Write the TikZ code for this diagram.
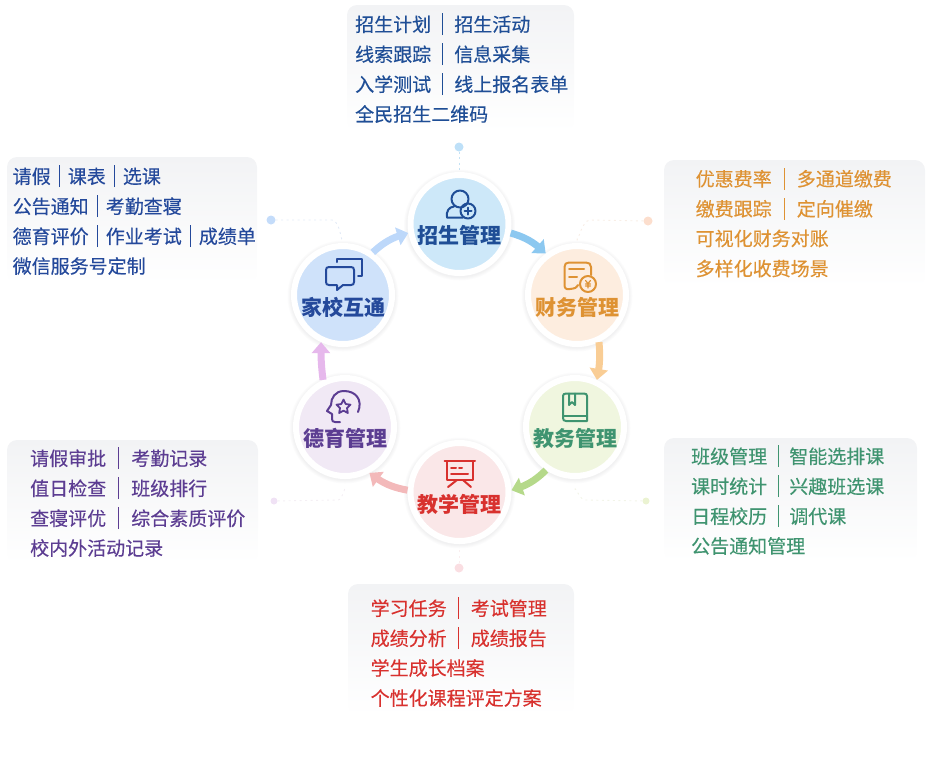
\documentclass[tikz,border=0pt]{standalone}
\usepackage{fontspec}
\setmainfont{Noto Sans CJK SC}
\newfontfamily\rowfont{Noto Sans CJK SC}[FakeBold=0.25]
\usetikzlibrary{arrows.meta,bending}
\definecolor{cA}{HTML}{1F4E96}\definecolor{cB}{HTML}{DE9233}\definecolor{cC}{HTML}{3F9470}
\definecolor{cD}{HTML}{D8312E}\definecolor{cE}{HTML}{5C3D92}\definecolor{cF}{HTML}{24499B}
\definecolor{panelgray}{HTML}{F2F3F5}
\definecolor{pa}{HTML}{BEE0F8}\definecolor{pf}{HTML}{C4DCFA}\definecolor{pb}{HTML}{FCDECD}
\definecolor{pe}{HTML}{F0E2F5}\definecolor{pc}{HTML}{EBF3D2}\definecolor{pd}{HTML}{FADEE2}
\definecolor{la}{HTML}{C4E2F5}\definecolor{lf}{HTML}{E2EAF6}\definecolor{lb}{HTML}{F8EEE6}
\definecolor{le}{HTML}{F4EFF4}\definecolor{lc}{HTML}{F2F4E8}\definecolor{ld}{HTML}{FAEEEF}
\definecolor{hA}{HTML}{CDE8F9}\definecolor{hB}{HTML}{FDEDDF}\definecolor{hC}{HTML}{F0F6DF}
\definecolor{hD}{HTML}{FAE7E8}\definecolor{hE}{HTML}{F1E9F5}\definecolor{hF}{HTML}{CFE2FA}
\definecolor{fA}{HTML}{8CC8F0}\definecolor{fB}{HTML}{F9CD95}\definecolor{fC}{HTML}{B5D98A}
\definecolor{fD}{HTML}{F3B9BA}\definecolor{fE}{HTML}{E6B8EC}\definecolor{fF}{HTML}{BDD8FA}
\definecolor{halocol}{HTML}{6A6A70}
\newcommand{\vsep}[1]{\hspace{#1pt}\rule[-3.5pt]{1.1pt}{22pt}\hspace{#1pt}}
\tikzset{
 x=1pt,y=-1pt,
 panel/.style={top color=panelgray,bottom color=white,rounded corners=10},
 row/.style={anchor=west,font=\rowfont\fontsize{19}{19}\selectfont,inner sep=0,text=#1},
 hub/.style={circle,minimum size=98pt,inner sep=0,draw=white,line width=6pt,fill=#1},
 hublabel/.style={font=\fontsize{21}{21}\selectfont\bfseries,inner sep=0,text=#1},
 halo/.style={fill=halocol,opacity=.025},
 flow/.style={draw=#1,line width=7pt,-{Triangle[width=18pt,length=11pt,color=#1]}},
 dot/.style={circle,minimum size=9pt,inner sep=0,fill=#1},
 lead/.style={draw=#1,line width=.9pt,dash pattern=on 2pt off 3.5pt},
 ico/.style={draw=#1,line width=2pt,line cap=round,line join=round},
}
\begin{document}
\begin{tikzpicture}
\useasboundingbox (0,0) rectangle (931,756);
% panels
\shade[panel] (347,5) rectangle (574,132);
\shade[panel] (7,157) rectangle (257,284);
\shade[panel] (664,160) rectangle (925,287);
\shade[panel] (7,440) rectangle (258,564);
\shade[panel] (664,438) rectangle (917,562);
\shade[panel] (348,584) rectangle (574,716);
% panel texts
\node[row=cA] (a1) at (355,24) {招生计划\vsep{11}招生活动};
\node[row=cA] (a2) at (355,54) {线索跟踪\vsep{11}信息采集};
\node[row=cA] (a3) at (355,84) {入学测试\vsep{11}线上报名表单};
\node[row=cA] (a4) at (355,114) {全民招生二维码};
\node[row=cF] (f1) at (12.5,176) {请假\vsep{8}课表\vsep{8}选课};
\node[row=cF] (f2) at (12.5,206) {公告通知\vsep{8}考勤查寝};
\node[row=cF] (f3) at (12.5,236) {德育评价\vsep{8}作业考试\vsep{8}成绩单};
\node[row=cF] (f4) at (12.5,266) {微信服务号定制};
\node[row=cB] (b1) at (695.5,178.5) {优惠费率\vsep{12}多通道缴费};
\node[row=cB] (b2) at (695.5,208.5) {缴费跟踪\vsep{12}定向催缴};
\node[row=cB] (b3) at (695.5,238.5) {可视化财务对账};
\node[row=cB] (b4) at (695.5,268.5) {多样化收费场景};
\node[row=cE] (e1) at (30,458) {请假审批\vsep{12}考勤记录};
\node[row=cE] (e2) at (30,488) {值日检查\vsep{12}班级排行};
\node[row=cE] (e3) at (30,518) {查寝评优\vsep{12}综合素质评价};
\node[row=cE] (e4) at (30,548) {校内外活动记录};
\node[row=cC] (c1) at (691,456) {班级管理\vsep{10.5}智能选排课};
\node[row=cC] (c2) at (691,486) {课时统计\vsep{10.5}兴趣班选课};
\node[row=cC] (c3) at (691,516) {日程校历\vsep{10.5}调代课};
\node[row=cC] (c4) at (691,546) {公告通知管理};
\node[row=cD] (d1) at (370.5,608) {学习任务\vsep{11.5}考试管理};
\node[row=cD] (d2) at (370.5,638) {成绩分析\vsep{11.5}成绩报告};
\node[row=cD] (d3) at (370.5,668) {学生成长档案};
\node[row=cD] (d4) at (370.5,698) {个性化课程评定方案};
% leaders
\node[dot=pa] (pA) at (459,147) {};
\node[dot=pf] (pF) at (271,220) {};
\node[dot=pb] (pB) at (648,221) {};
\node[dot=pe,minimum size=7pt] (pE) at (274,501) {};
\node[dot=pc,minimum size=7pt] (pC) at (646,501) {};
\node[dot=pd] (pD) at (459,568) {};
\coordinate (qa) at (459,170);
\coordinate (qf) at (342,238);
\coordinate (qb) at (577,238);
\coordinate (qe) at (345,490);
\coordinate (qc) at (575,490);
\coordinate (qd) at (459,548);
\draw[lead=la] (pA) -- (qa);
\draw[lead=lf] (pF) -- (332,220) to[out=0,in=-90] (qf);
\draw[lead=lb] (pB) -- (590,220) to[out=180,in=-90] (qb);
\draw[lead=le] (pE) -- (338,500) to[out=0,in=90] (qe);
\draw[lead=lc] (pC) -- (585,500) to[out=180,in=90] (qc);
\draw[lead=ld] (pD) -- (qd);
% soft halos
\foreach \cx/\cy in {459.5/224,577/295,575/427,459.5/492,345/427,343/295}{
 \foreach \r in {52.5,53.5,54.5,55.5}{\fill[halo] (\cx,\cy+1) circle[radius=\r];}
}
% hubs
\node[hub=hA] (n1) at (459.5,224) {};
\node[hub=hB] (n2) at (577,295) {};
\node[hub=hC] (n3) at (575,427) {};
\node[hub=hD] (n4) at (459.5,492) {};
\node[hub=hE] (n5) at (345,427) {};
\node[hub=hF] (n6) at (343,295) {};
\node[hublabel=cA] (t1) at (459.5,235) {招生管理};
\node[hublabel=cB] (t2) at (577,307) {财务管理};
\node[hublabel=cC] (t3) at (575,438) {教务管理};
\node[hublabel=cD] (t4) at (459.5,504) {教学管理};
\node[hublabel=cE] (t5) at (345,438) {德育管理};
\node[hublabel=cF] (t6) at (343,307) {家校互通};
% flow arrows
\draw[flow=fA] (n1.-10) to[bend left=14] (n2.127);
\draw[flow=fB] (n2.-65) to[bend left=8] (n3.65);
\draw[flow=fC] (n3.236) to[bend left=14] (n4.2);
\draw[flow=fD] (n4.178) to[bend left=14] (n5.-62);
\draw[flow=fE] (n5.115) to[bend left=4] (n6.-115);
\draw[flow=fF] (n6.55) to[bend left=14] (n1.190);
% icon: person with plus
\draw[ico=cA] (460,199) circle[radius=8.5];
\draw[ico=cA] (463,217.5) -- (447,217.5) .. controls (446,211) and (449,207) .. (454,206.5);
\draw[ico=cA] (468,211) circle[radius=7.5];
\draw[ico=cA] (464.5,211) -- (471.5,211) (468,207.5) -- (468,214.5);
% icon: receipt
\draw[ico=cB] (578,285) .. controls (574,291) and (572,287) .. (570,289) .. controls (566,290) and (564.5,288) .. (564.5,285) -- (564.5,267) .. controls (564.5,264) and (566,262.5) .. (569,262.5) -- (586,262.5) .. controls (589,262.5) and (591,264) .. (591,267) -- (591,275);
\draw[ico=cB] (569,268.5) -- (584,268.5) (569,277) -- (577,277);
\draw[ico=cB] (588,284) circle[radius=8];
\draw[ico=cB,line width=1.2pt] (585.5,280.5) -- (588,283.5) -- (590.5,280.5) (588,283.5) -- (588,288) (585.5,284) -- (590.5,284) (585.5,286) -- (590.5,286);
% icon: book
\draw[ico=cC] (566,393.5) -- (584,393.5) .. controls (586,393.5) and (587,394.5) .. (587,396) -- (587,421) -- (566,421) .. controls (564,421) and (563,420) .. (563,418) -- (563,396) .. controls (563,394.5) and (564,393.5) .. (566,393.5) -- cycle;
\draw[ico=cC] (563,416) -- (587,416);
\draw[ico=cC] (569,393.5) -- (569,405) -- (572,402) -- (575,405) -- (575,393.5);
% icon: board
\draw[ico=cD] (444.5,461) -- (475,461);
\draw[ico=cD] (446.5,461) -- (446.5,480) -- (473,480) -- (473,461);
\draw[ico=cD] (451,467.5) -- (456,467.5) (459,467.5) -- (462,467.5) (451,473.5) -- (468,473.5);
\draw[ico=cD] (457,480) -- (448,487) (463,480) -- (471,487);
% icon: head with star
\draw[ico=cE] (358,412) .. controls (363,400) and (356,391) .. (344,391) .. controls (335,391) and (331,398) .. (331,405) -- (327,411) -- (332,414) -- (332,419) .. controls (332,421) and (333,422) .. (335,422) -- (340,422);
\draw[ico=cE,line width=1.8pt] (343.5,399.5) -- (345.7,404) -- (350.5,404.7) -- (347,408) -- (347.8,413) -- (343.5,410.6) -- (339.2,413) -- (340,408) -- (336.5,404.7) -- (341.3,404) -- cycle;
% icon: chat bubbles
\draw[ico=cF] (329,267) -- (351,267) .. controls (353,267) and (354,268) .. (354,270) -- (354,282) .. controls (354,284) and (353,285) .. (351,285) -- (343,285) -- (337,290) -- (337,285) -- (329,285) .. controls (327,285) and (326,284) .. (326,282) -- (326,270) .. controls (326,268) and (327,267) .. (329,267) -- cycle;
\draw[ico=cF] (337,262) -- (337,258.5) -- (361.5,258.5) -- (361.5,276) -- (358,276);
\end{tikzpicture}
\end{document}
